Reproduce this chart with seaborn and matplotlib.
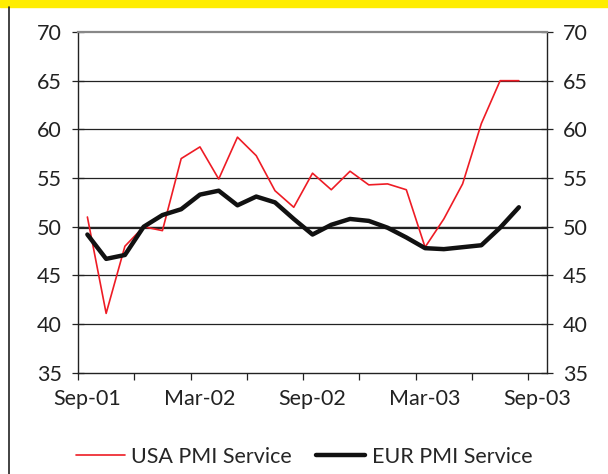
import numpy as np
import pandas as pd
import matplotlib
matplotlib.use("Agg")
import matplotlib.pyplot as plt
import seaborn as sns
from matplotlib.ticker import FixedLocator, NullFormatter

months = ['Sep-01', 'Oct-01', 'Nov-01', 'Dec-01', 'Jan-02', 'Feb-02', 'Mar-02',
          'Apr-02', 'May-02', 'Jun-02', 'Jul-02', 'Aug-02', 'Sep-02', 'Oct-02',
          'Nov-02', 'Dec-02', 'Jan-03', 'Feb-03', 'Mar-03', 'Apr-03', 'May-03',
          'Jun-03', 'Jul-03', 'Aug-03', 'Sep-03']
usa_pmi = [51.0, 41.1, 48.0, 50.0, 49.6, 57.0, 58.2, 54.9, 59.2, 57.3, 53.7, 52.0,
           55.5, 53.8, 55.7, 54.3, 54.4, 53.8, 47.9, 50.8, 54.4, 60.6, 65.0, 65.0]
eur_pmi = [49.2, 46.7, 47.1, 50.0, 51.2, 51.8, 53.3, 53.7, 52.2, 53.1, 52.5, 50.8,
           49.2, 50.2, 50.8, 50.6, 49.9, 48.9, 47.8, 47.7, 47.9, 48.1, 49.9, 52.0]
tick_labels = ['Sep-01', 'Mar-02', 'Sep-02', 'Mar-03', 'Sep-03']
y_ticks = [35, 40, 45, 50, 55, 60, 65, 70]

sns.set_style("white")
plt.rcParams['font.family'] = ['Lato', 'DejaVu Sans']
fs = 15.5

df = pd.DataFrame({
    'idx': np.arange(len(usa_pmi)),
    'USA PMI Service': usa_pmi,
    'EUR PMI Service': eur_pmi,
})

fig = plt.figure(figsize=(6.08, 4.74), dpi=100)
ax = fig.add_axes([0.1283, 0.2135, 0.7714, 0.719])

# grid lines
for v in y_ticks[1:-1]:
    ax.axhline(v, color='#222222', lw=0.9, zorder=1)
ax.axhline(49.9, color='#222222', lw=1.6, zorder=1)

sns.lineplot(data=df, x='idx', y='USA PMI Service', color='#ee1c25', lw=1.2,
             ax=ax, label='USA PMI Service', zorder=3)
sns.lineplot(data=df, x='idx', y='EUR PMI Service', color='#111111', lw=3.2,
             ax=ax, label='EUR PMI Service', zorder=4)

ax.set_xlim(-0.5, len(months) - 0.5)
ax.set_ylim(35, 70)
ax.set_xlabel('')
ax.set_ylabel('')

pos = [months.index(m) for m in tick_labels]
ax.set_xticks(pos)
ax.set_xticklabels(tick_labels)
ax.xaxis.set_minor_locator(FixedLocator(np.arange(-0.5, len(months) - 0.5, 3)))
ax.xaxis.set_minor_formatter(NullFormatter())
ax.tick_params(axis='x', which='major', length=0, pad=12, labelsize=fs, colors='#222222')
ax.tick_params(axis='x', which='minor', length=5, width=0.9, direction='out',
               color='#222222', bottom=True)

ax.set_yticks(y_ticks)
ax.tick_params(axis='y', which='major', left=True, labelleft=True,
               length=4.5, width=0.9, direction='out',
               color='#222222', pad=7, labelsize=fs, labelcolor='#222222')
ax.tick_params(axis='y', which='major', right=True, labelright=True,
               direction='inout', length=9)

for side in ['left', 'right', 'bottom']:
    ax.spines[side].set_color('#222222')
    ax.spines[side].set_linewidth(1.0)
ax.spines['top'].set_color('#888888')
ax.spines['top'].set_linewidth(1.6)

ax.get_legend().remove()
handles, labels = ax.get_legend_handles_labels()
fig.legend(handles, labels, loc='center', bbox_to_anchor=(0.5, 0.036), ncol=2,
           frameon=False, fontsize=fs, handlelength=2.3, handletextpad=0.3,
           columnspacing=1.1)

# yellow band and left rule
fig.patches.append(plt.Rectangle((0, 0.985), 1, 0.015, transform=fig.transFigure,
                                 color='#ffed00', zorder=0))
fig.lines.append(plt.Line2D([0.0148, 0.0148], [0, 0.985], transform=fig.transFigure,
                            color='#222222', lw=1.2))

fig.savefig('out.png', dpi=100)
